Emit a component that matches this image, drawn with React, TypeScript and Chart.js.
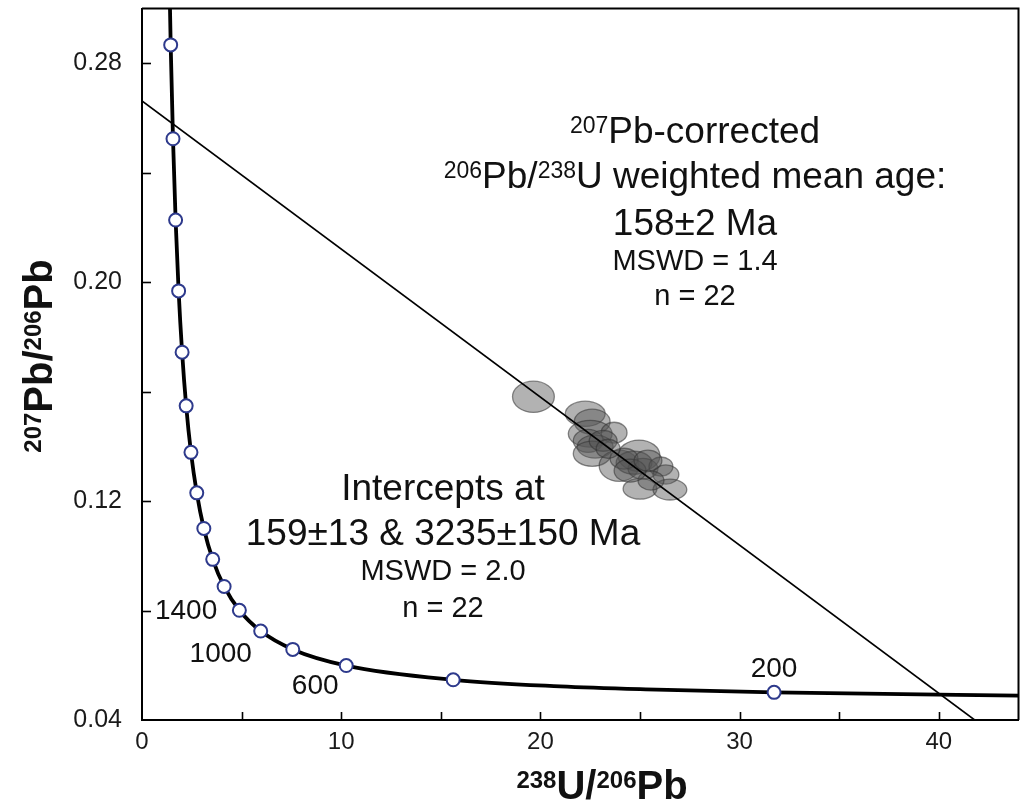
import React, { useEffect, useRef } from 'react';
import { Chart, registerables } from 'chart.js';

Chart.register(...registerables);

// ---- axis ticks ----
const xTickValues = [0, 5, 10, 15, 20, 25, 30, 35, 40];
const xLabelValues = [0, 10, 20, 30, 40];
const yTickValues = [0.04, 0.08, 0.12, 0.16, 0.2, 0.24, 0.28];
const yLabelValues = [0.04, 0.12, 0.2, 0.28];

// ---- concordia curve ----
const concordiaX = [1.337, 1.44, 1.556, 1.687, 1.838, 2.013, 2.217, 2.458, 2.749, 3.104, 3.55, 4.122, 4.888, 5.959, 7.568, 10.252, 15.621, 20.99, 25.29, 31.73, 45.55];
const concordiaY = [0.3264, 0.2867, 0.2524, 0.2227, 0.1968, 0.1744, 0.1548, 0.1378, 0.123, 0.11, 0.0987, 0.0888, 0.0801, 0.0725, 0.0658, 0.0599, 0.0547, 0.0523, 0.0512, 0.0501, 0.0488];

// ---- age markers on the concordia (every 200 Ma) ----
const markerAges = [3400, 3200, 3000, 2800, 2600, 2400, 2200, 2000, 1800, 1600, 1400, 1200, 1000, 800, 600, 400, 200];
const markerX = [1.44, 1.556, 1.687, 1.838, 2.013, 2.217, 2.458, 2.749, 3.104, 3.55, 4.122, 4.888, 5.959, 7.568, 10.252, 15.621, 31.73];
const markerY = [0.2867, 0.2524, 0.2227, 0.1968, 0.1744, 0.1548, 0.1378, 0.123, 0.11, 0.0987, 0.0888, 0.0801, 0.0725, 0.0658, 0.0599, 0.0547, 0.0501];

// ---- labelled ages ----
const ageLabels = ['200', '600', '1000', '1400'];
const ageLabelX = [31.73, 10.252, 5.959, 4.122];
const ageLabelY = [0.0501, 0.0599, 0.0725, 0.0888];

// ---- discordia regression line ----
const discordiaX = [0, 41.8];
const discordiaY = [0.2662, 0.04];

// ---- analysis error ellipses (centre, half-width, half-height) ----
const ellipseX = [19.65, 22.25, 22.6, 22.5, 23.7, 22.4, 22.75, 22.6, 23.15, 23.95, 24.95, 24.7, 25.15, 24.2, 26.05, 26.3, 25.0, 26.5, 25.55, 23.4, 24.5, 25.4];
const ellipseY = [0.1581, 0.1519, 0.149, 0.1446, 0.145, 0.142, 0.1399, 0.1373, 0.142, 0.1329, 0.1366, 0.134, 0.1318, 0.1355, 0.1326, 0.1297, 0.1245, 0.1242, 0.1275, 0.1391, 0.1311, 0.1348];
const ellipseRX = [1.05, 1.0, 0.9, 1.1, 0.65, 0.75, 0.9, 0.95, 0.7, 1.0, 1.05, 0.9, 0.75, 0.7, 0.6, 0.65, 0.85, 0.85, 0.65, 0.6, 0.8, 0.7];
const ellipseRY = [0.0057, 0.0046, 0.0046, 0.0049, 0.0038, 0.0042, 0.0042, 0.0046, 0.0038, 0.0057, 0.0057, 0.0042, 0.0038, 0.0038, 0.0035, 0.0035, 0.0038, 0.0038, 0.0035, 0.0035, 0.0042, 0.0038];

const FONT = "'Liberation Sans', Arial, Helvetica, sans-serif";

type Seg = { t: string; sup?: boolean };

function drawRich(ctx: CanvasRenderingContext2D, segs: Seg[], cx: number, baseline: number, size: number, bold: boolean, supSize?: number) {
  const w = bold ? 'bold ' : '';
  const ss = supSize ?? Math.round(size * 0.6);
  const raise = 0.716 * (size - ss);
  let total = 0;
  const widths: number[] = [];
  for (const s of segs) {
    ctx.font = `${w}${s.sup ? ss : size}px ${FONT}`;
    const m = ctx.measureText(s.t).width;
    widths.push(m);
    total += m;
  }
  let x = cx - total / 2;
  ctx.textAlign = 'left';
  ctx.textBaseline = 'alphabetic';
  segs.forEach((s, i) => {
    ctx.font = `${w}${s.sup ? ss : size}px ${FONT}`;
    ctx.fillText(s.t, x, s.sup ? baseline - raise : baseline);
    x += widths[i];
  });
}

const ellipsePlugin = {
  id: 'ellipses',
  beforeDatasetsDraw(chart: any) {
    const { ctx, chartArea, scales } = chart;
    const xs = scales.x;
    const ys = scales.y;
    ctx.save();
    ctx.beginPath();
    ctx.rect(chartArea.left, chartArea.top, chartArea.right - chartArea.left, chartArea.bottom - chartArea.top);
    ctx.clip();
    for (let i = 0; i < ellipseX.length; i++) {
      const cx = xs.getPixelForValue(ellipseX[i]);
      const cy = ys.getPixelForValue(ellipseY[i]);
      const rx = Math.abs(xs.getPixelForValue(ellipseX[i] + ellipseRX[i]) - cx);
      const ry = Math.abs(ys.getPixelForValue(ellipseY[i] + ellipseRY[i]) - cy);
      ctx.beginPath();
      ctx.ellipse(cx, cy, rx, ry, 0, 0, Math.PI * 2);
      ctx.fillStyle = 'rgba(85,85,85,0.45)';
      ctx.fill();
      ctx.lineWidth = 1.3;
      ctx.strokeStyle = 'rgba(50,50,50,0.55)';
      ctx.stroke();
    }
    ctx.restore();
  },
};

const decorPlugin = {
  id: 'decor',
  afterDraw(chart: any) {
    const { ctx, chartArea, scales } = chart;
    const xs = scales.x;
    const ys = scales.y;
    const { left, right, top, bottom } = chartArea;
    ctx.save();
    // inward tick marks
    ctx.strokeStyle = '#000';
    ctx.lineWidth = 1.6;
    xTickValues.forEach((v) => {
      if (v === 0) return;
      const px = Math.round(xs.getPixelForValue(v)) + 0.5;
      ctx.beginPath();
      ctx.moveTo(px, bottom);
      ctx.lineTo(px, bottom - 8);
      ctx.stroke();
    });
    yTickValues.forEach((v) => {
      const py = Math.round(ys.getPixelForValue(v)) + 0.5;
      if (Math.abs(py - bottom) < 2) return;
      ctx.beginPath();
      ctx.moveTo(left, py);
      ctx.lineTo(left + 9, py);
      ctx.stroke();
    });
    // top & right frame
    ctx.lineWidth = 2;
    ctx.beginPath();
    ctx.moveTo(left, top);
    ctx.lineTo(right, top);
    ctx.lineTo(right, bottom);
    ctx.stroke();

    ctx.fillStyle = '#111';
    // age labels beside markers
    const offs = [[0, -23], [-31, 21], [-40, 23], [-38, 25]];
    ctx.font = `28px ${FONT}`;
    ctx.textAlign = 'center';
    ctx.textBaseline = 'middle';
    ageLabels.forEach((lab, i) => {
      const px = xs.getPixelForValue(ageLabelX[i]) + offs[i][0];
      const py = ys.getPixelForValue(ageLabelY[i]) + offs[i][1];
      ctx.fillText(lab, px, py);
    });

    // annotation: weighted mean age
    const ux = 695;
    drawRich(ctx, [{ t: '207', sup: true }, { t: 'Pb-corrected' }], ux, 143, 37, false, 23);
    drawRich(ctx, [{ t: '206', sup: true }, { t: 'Pb/' }, { t: '238', sup: true }, { t: 'U weighted mean age:' }], ux, 188, 37, false, 23);
    drawRich(ctx, [{ t: '158±2 Ma' }], ux, 235, 37, false);
    drawRich(ctx, [{ t: 'MSWD = 1.4' }], ux, 270, 29, false);
    drawRich(ctx, [{ t: 'n = 22' }], ux, 305, 29, false);

    // annotation: intercepts
    const lx = 443;
    drawRich(ctx, [{ t: 'Intercepts at' }], lx, 500, 37, false);
    drawRich(ctx, [{ t: '159±13 & 3235±150 Ma' }], lx, 545, 37, false);
    drawRich(ctx, [{ t: 'MSWD = 2.0' }], lx, 580, 29, false);
    drawRich(ctx, [{ t: 'n = 22' }], lx, 617, 29, false);

    // axis titles
    drawRich(ctx, [{ t: '238', sup: true }, { t: 'U/' }, { t: '206', sup: true }, { t: 'Pb' }], 602, 799, 40, true, 24);
    ctx.save();
    ctx.translate(52, 356);
    ctx.rotate(-Math.PI / 2);
    drawRich(ctx, [{ t: '207', sup: true }, { t: 'Pb/' }, { t: '206', sup: true }, { t: 'Pb' }], 0, 0, 40, true, 24);
    ctx.restore();

    ctx.restore();
  },
};

export default function App() {
  const canvasRef = useRef<HTMLCanvasElement | null>(null);

  useEffect(() => {
    if (!canvasRef.current) return;
    const toPts = (xs: number[], ys: number[]) => xs.map((x, i) => ({ x, y: ys[i] }));
    const chart = new Chart(canvasRef.current, {
      type: 'scatter',
      data: {
        datasets: [
          {
            label: 'Discordia',
            data: toPts(discordiaX, discordiaY),
            showLine: true,
            borderColor: '#000',
            borderWidth: 1.6,
            pointRadius: 0,
            fill: false,
            order: 3,
          },
          {
            label: 'Concordia',
            data: toPts(concordiaX, concordiaY),
            showLine: true,
            borderColor: '#000',
            borderWidth: 3.8,
            pointRadius: 0,
            cubicInterpolationMode: 'monotone',
            fill: false,
            order: 2,
          },
          {
            label: 'Age markers (Ma)',
            data: toPts(markerX, markerY),
            showLine: false,
            pointRadius: 6.5,
            pointBorderWidth: 2,
            pointBackgroundColor: '#fff',
            pointBorderColor: '#2e3a8c',
            order: 1,
          },
        ],
      },
      options: {
        animation: false,
        responsive: false,
        maintainAspectRatio: false,
        layout: { padding: { left: 0, right: 5, top: 5, bottom: 0 } },
        plugins: { legend: { display: false }, tooltip: { enabled: false } },
        scales: {
          x: {
            type: 'linear',
            min: 0,
            max: 44,
            afterFit: (s: any) => { s.height = 85; s.paddingLeft = 0; s.paddingRight = 0; },
            afterBuildTicks: (s: any) => { s.ticks = xTickValues.map((v) => ({ value: v })); },
            grid: { display: false },
            border: { display: true, color: '#000', width: 2 },
            ticks: {
              autoSkip: false,
              maxRotation: 0,
              padding: 0,
              color: '#1a1a1a',
              font: { family: FONT, size: 24 },
              callback: (v: any) => (xLabelValues.includes(Number(v)) ? String(v) : ''),
            },
          },
          y: {
            type: 'linear',
            min: 0.04,
            max: 0.3,
            afterFit: (s: any) => { s.width = 142; s.paddingTop = 0; s.paddingBottom = 0; },
            afterBuildTicks: (s: any) => { s.ticks = yTickValues.map((v) => ({ value: v })); },
            grid: { display: false },
            border: { display: true, color: '#000', width: 2 },
            ticks: {
              autoSkip: false,
              padding: 12,
              color: '#1a1a1a',
              font: { family: FONT, size: 25 },
              callback: (v: any) => (yLabelValues.some((l) => Math.abs(l - Number(v)) < 1e-9) ? Number(v).toFixed(2) : ''),
            },
          },
        },
      },
      plugins: [ellipsePlugin, decorPlugin],
    } as any);
    return () => chart.destroy();
  }, []);

  return (
    <div style={{ position: 'absolute', left: 0, top: 0, width: 1027, height: 805, background: '#fff' }}>
      <canvas ref={canvasRef} width={1027} height={805} style={{ width: 1027, height: 805, display: 'block' }} />
    </div>
  );
}
